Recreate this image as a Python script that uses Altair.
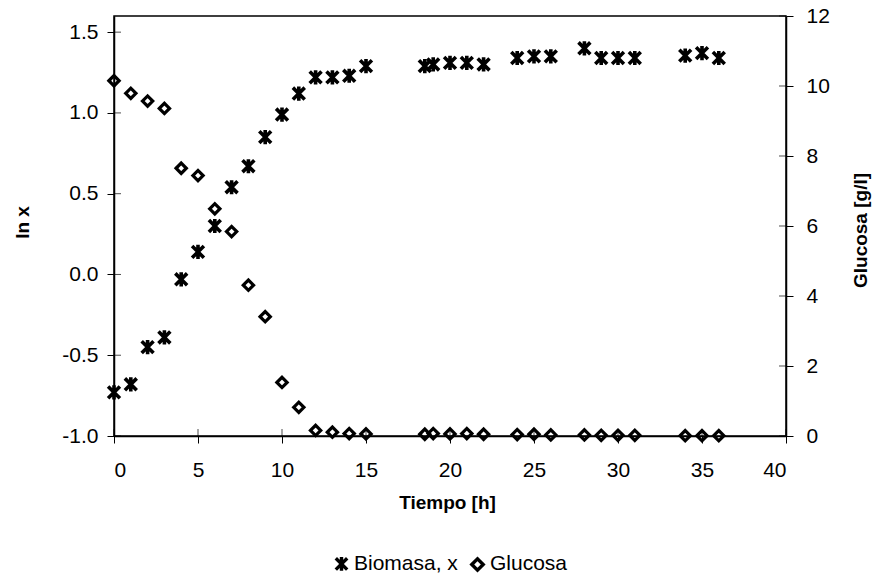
import altair as alt
import pandas as pd

# Sampling times [h]
tiempo = [0, 1, 2, 3, 4, 5, 6, 7, 8, 9, 10, 11, 12, 13, 14, 15,
          18.5, 19, 20, 21, 22, 24, 25, 26, 28, 29, 30, 31, 34, 35, 36]

# ln of biomass concentration
ln_biomasa = [-0.73, -0.68, -0.45, -0.39, -0.03, 0.14, 0.30, 0.54, 0.67, 0.85,
              0.99, 1.12, 1.22, 1.22, 1.23, 1.29, 1.29, 1.30, 1.31, 1.31,
              1.30, 1.34, 1.35, 1.35, 1.40, 1.34, 1.34, 1.34, 1.355, 1.37, 1.34]

# Glucose concentration [g/l]
glucosa = [10.15, 9.79, 9.57, 9.36, 7.65, 7.44, 6.49, 5.84, 4.31, 3.41,
           1.53, 0.82, 0.16, 0.11, 0.07, 0.06, 0.05, 0.07, 0.06, 0.07,
           0.05, 0.04, 0.05, 0.03, 0.03, 0.02, 0.02, 0.02, 0.01, 0.01, 0.01]

series = ["Biomasa, x", "Glucosa"]

t_ticks = [0, 5, 10, 15, 20, 25, 30, 35, 40]
ln_ticks = [-1.0, -0.5, 0.0, 0.5, 1.0, 1.5]
g_ticks = [0, 2, 4, 6, 8, 10, 12]

W, H = 672, 420
FONT = "Liberation Sans"
STAR = "M-1,-1L1,1M-1,1L1,-1M0,-1.2L0,1.2"

bio = pd.DataFrame({"t": tiempo, "v": ln_biomasa, "serie": series[0]})
glu = pd.DataFrame({"t": tiempo, "v": glucosa, "serie": series[1]})

x_scale = alt.Scale(domain=[0, 40], nice=False, zero=False)
ln_scale = alt.Scale(domain=[-1.0, 1.6], nice=False, zero=False)
g_scale = alt.Scale(domain=[0, 12], nice=False, zero=False)

x_axis = alt.Axis(values=t_ticks, format="d", title="Tiempo [h]",
                  tickSize=7, labelPadding=16,
                  titleX=333, titleY=66, titleBaseline="middle", titleAlign="center")

x_enc = alt.X("t:Q", scale=x_scale, axis=x_axis)

shape_enc = alt.Shape(
    "serie:N",
    scale=alt.Scale(domain=series, range=[STAR, "diamond"]),
    legend=alt.Legend(title=None, orient="none", direction="horizontal",
                      legendX=217, legendY=537),
)

bio_layer = alt.Chart(bio).mark_point(
    filled=False, size=140, strokeWidth=3.6, color="black", opacity=1
).encode(
    x=x_enc,
    y=alt.Y("v:Q", scale=ln_scale,
            axis=alt.Axis(orient="left", values=ln_ticks, title="ln x",
                          labelExpr="(datum.value < 0 ? '-' : '') + format(abs(datum.value), '.1f')",
                          tickSize=7, labelPadding=9,
                          titleX=-92, titleY=206, titleAngle=270,
                          titleBaseline="middle", titleAlign="center")),
    shape=shape_enc,
)

glu_layer = alt.Chart(glu).mark_point(
    filled=False, size=105, strokeWidth=3.2, color="black", opacity=1
).encode(
    x=x_enc,
    y=alt.Y("v:Q", scale=g_scale,
            axis=alt.Axis(orient="right", values=g_ticks, format="d",
                          title="Glucosa [g/l]",
                          tickSize=7, labelPadding=13,
                          titleX=74, titleY=214, titleAngle=270,
                          titleBaseline="middle", titleAlign="center")),
    shape=shape_enc,
)

# inward halves of the cross-shaped axis ticks
x_in = alt.Chart(pd.DataFrame({"t": t_ticks})).mark_tick(
    color="black", thickness=1, size=7
).encode(x=x_enc, y=alt.value(H - 3.5))

ln_in = alt.Chart(pd.DataFrame({"v": ln_ticks})).mark_tick(
    color="black", thickness=1, size=7
).encode(y=alt.Y("v:Q", scale=ln_scale, axis=None), x=alt.value(3.5))

g_in = alt.Chart(pd.DataFrame({"v": g_ticks})).mark_tick(
    color="black", thickness=1, size=7
).encode(y=alt.Y("v:Q", scale=g_scale, axis=None), x=alt.value(W - 3.5))

chart = alt.layer(
    bio_layer, glu_layer, x_in, ln_in, g_in
).resolve_scale(
    y="independent"
).properties(
    width=W, height=H,
    autosize=alt.AutoSizeParams(type="none"),
    padding={"left": 114, "top": 16, "right": 873 - 114 - W, "bottom": 574 - 16 - H},
    background="white",
).configure_view(
    stroke="black", strokeWidth=1.5
).configure_axis(
    grid=False,
    domainColor="black", domainWidth=1.5,
    tickColor="black", tickWidth=1,
    labelFont=FONT, labelFontSize=21, labelColor="black",
    titleFont=FONT, titleFontSize=19, titleFontWeight="bold", titleColor="black",
).configure_legend(
    labelFont=FONT, labelFontSize=21, labelColor="black",
    symbolSize=130, symbolStrokeWidth=3.4, symbolStrokeColor="black",
    columnPadding=6, labelOffset=2,
)

chart.save("out.html", embed_options={"renderer": "svg", "actions": False})
